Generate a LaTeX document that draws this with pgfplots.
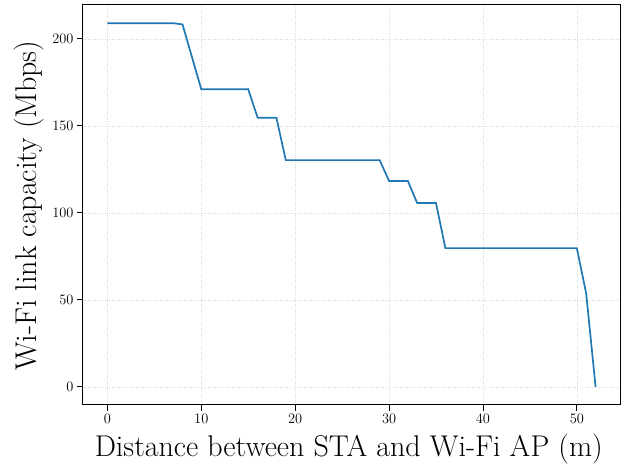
\documentclass[border=0pt]{standalone}
\usepackage{pgfplots}
\pgfplotsset{compat=1.18}
\definecolor{tabblue}{HTML}{1F77B4}
\begin{document}
\begin{tikzpicture}
\begin{axis}[
  scale only axis,
  width=537pt, height=400pt,
  xmin=-2.6, xmax=54.6,
  ymin=-10.45, ymax=219.45,
  xtick={0,10,20,30,40,50},
  ytick={0,50,100,150,200},
  tick align=outside,
  tick pos=left,
  major tick length=6pt,
  axis line style={line width=1pt},
  every tick/.style={black, line width=0.8pt},
  grid=major,
  major grid style={dotted, gray!30, line width=0.6pt},
  tick label style={font=\fontsize{14.5}{16}\selectfont},
  xlabel={Distance between STA and Wi-Fi AP (m)},
  ylabel={Wi-Fi link capacity (Mbps)},
  every axis x label/.style={at={(axis description cs:0.495,-0.13)}, anchor=base, font=\fontsize{30}{34}\selectfont},
  every axis y label/.style={at={(axis description cs:-0.1006,0.498)}, anchor=center, rotate=90, font=\fontsize{30}{34}\selectfont},
]
\addplot[tabblue, line width=1.7pt] coordinates {
(0,209) (7,209) (8,208.3) (10,171) (15,171) (16,154.7) (18,154.7) (19,130.3)
(29,130.3) (30,118.3) (32,118.3) (33,105.6) (35,105.6) (36,79.7) (50,79.7)
(51,53.6) (52,0)
};
\end{axis}
\pgfresetboundingbox
\path[use as bounding box] ([shift={(-83pt,-60pt)}]current axis.south west) rectangle ([shift={(10pt,5pt)}]current axis.north east);
\end{tikzpicture}
\end{document}
